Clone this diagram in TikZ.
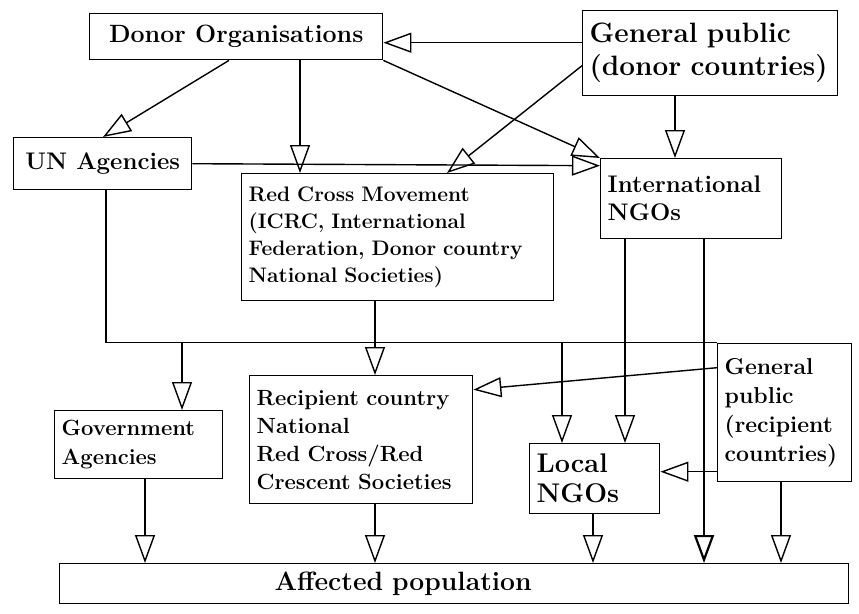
\documentclass[tikz,border=0pt]{standalone}
\usepackage{tikz}
\usetikzlibrary{arrows.meta}

\begin{document}
\begin{tikzpicture}[x=1pt,y=-1pt,
	box/.style={draw,line width=1.4pt,anchor=north west,inner xsep=7pt,inner ysep=0pt,align=left},
	flow/.style={line width=1.4pt,-{Triangle[length=28pt,width=20pt,fill=white]}}
	]
  \useasboundingbox (0,0) rectangle (859,613);
  \node[box,minimum width=293pt,minimum height=46pt,align=center,font=\bfseries\fontsize{25}{30}\selectfont] (donor) at (89,13) {Donor Organisations};
  \node[box,text width=241pt,minimum height=85pt,font=\bfseries\fontsize{28}{33}\selectfont] (gpd) at (582,10) {General public\\(donor countries)};
  \node[box,minimum width=178pt,minimum height=52pt,align=center,font=\bfseries\fontsize{24}{28}\selectfont] (un) at (13,137) {UN Agencies};
  \node[box,text width=298pt,minimum height=127pt,font=\bfseries\fontsize{21}{27}\selectfont] (rcm) at (241,173) {Red Cross Movement\\(ICRC, International\\Federation, Donor country\\National Societies)};
  \node[box,text width=167pt,minimum height=80pt,font=\bfseries\fontsize{24}{28}\selectfont] (ingo) at (600,158) {International\\NGOs};
  \node[box,text width=209pt,minimum height=128pt,font=\bfseries\fontsize{22}{28}\selectfont] (rcs) at (249,375) {Recipient country\\National\\Red Cross/Red\\Crescent Societies};
  \node[box,text width=154pt,minimum height=68pt,font=\bfseries\fontsize{22}{29}\selectfont] (gov) at (54,410) {Government\\Agencies};
  \node[box,text width=116pt,minimum height=70pt,font=\bfseries\fontsize{27}{30}\selectfont] (lngo) at (529,443) {Local\\NGOs};
  \node[box,text width=120pt,minimum height=138pt,font=\bfseries\fontsize{23}{29}\selectfont] (gpr) at (717,343) {General\\public\\(recipient\\countries)};
  \node[box,text width=775pt,minimum height=40pt,font=\bfseries\fontsize{26.5}{30}\selectfont] (aff) at (59,563) {\hspace*{208pt}Affected population};

  \draw[flow] ([yshift=10.5pt]gpd.west) -- ([yshift=-6pt]donor.east);
  \draw[flow] ([xshift=140pt]donor.south west) -- ([xshift=90pt]un.north west);
  \draw[flow] ([xshift=211pt]donor.south west) -- ([xshift=59pt]rcm.north west);
  \draw[flow] (donor.south east) -- (ingo.north west);
  \draw[flow] ([yshift=-12.5pt]gpd.west) -- ([xshift=206pt]rcm.north west);
  \draw[flow] ([xshift=93pt]gpd.south west) -- ([xshift=75pt]ingo.north west);
  \draw[flow] (un.east) -- ([yshift=33pt]ingo.west);

  \draw[line width=1.4pt] ([xshift=93pt]un.south west) |- coordinate (bus) ([yshift=70pt]gpr.west);
  \path ([xshift=128pt]gov.north west) coordinate (govtop)
        ([xshift=33pt]lngo.north west) coordinate (lngotop);
  \draw[flow] (bus -| govtop) -- (govtop);
  \draw[flow] (bus -| lngotop) -- (lngotop);

  \draw[flow] ([xshift=134pt]rcm.south west) -- ([xshift=126pt]rcs.north west);
  \draw[flow] ([xshift=25pt]ingo.south west) -- ([xshift=96pt]lngo.north west);
  \draw[flow,line width=2.2pt] ([xshift=104pt]ingo.south west) -- ([xshift=645pt]aff.north west);
  \draw[flow] ([yshift=45pt]gpr.west) -- ([yshift=50pt]rcs.east);
  \draw[flow] ([yshift=-59pt]gpr.west) -- ([yshift=7pt]lngo.east);
  \draw[flow] ([xshift=64pt]gpr.south west) -- ([xshift=722pt]aff.north west);
  \draw[flow] ([xshift=91pt]gov.south west) -- ([xshift=86pt]aff.north west);
  \draw[flow] ([xshift=126pt]rcs.south west) -- ([xshift=316pt]aff.north west);
  \draw[flow] ([xshift=64pt]lngo.south west) -- ([xshift=534pt]aff.north west);
\end{tikzpicture}
\end{document}
